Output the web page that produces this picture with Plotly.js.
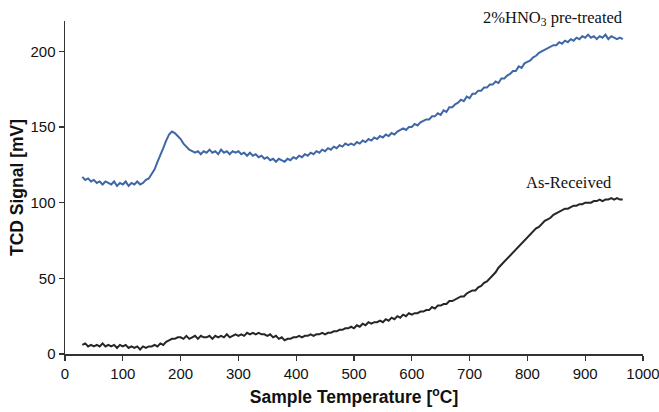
<!DOCTYPE html>
<html>
<head>
<meta charset="utf-8">
<script src="https://cdn.plot.ly/plotly-3.0.1.min.js"></script>
<style>html,body{margin:0;padding:0;background:#fff;}#chart{width:659px;height:412px;}</style>
</head>
<body>
<div id="chart"></div>
<script>
var temperatures = [30,35,40,45,50,55,60,65,70,75,80,85,90,95,100,105,110,115,120,125,130,135,140,145,
150,155,160,165,170,175,180,185,190,195,200,205,210,215,220,225,230,235,240,245,
250,255,260,265,270,275,280,285,290,295,300,305,310,315,320,325,330,335,340,345,
350,355,360,365,370,375,380,385,390,395,400,405,410,415,420,425,430,435,440,445,
450,455,460,465,470,475,480,485,490,495,500,505,510,515,520,525,530,535,540,545,
550,555,560,565,570,575,580,585,590,595,600,605,610,615,620,625,630,635,640,645,
650,655,660,665,670,675,680,685,690,695,700,705,710,715,720,725,730,735,740,745,
750,755,760,765,770,775,780,785,790,795,800,805,810,815,820,825,830,835,840,845,
850,855,860,865,870,875,880,885,890,895,900,905,910,915,920,925,930,935,940,945,
950,955,960,965];

var hno3Signal = [117,115,116,114,115,113,114,112,114,113,112,114,111,113,112,114,111,113,112,114,112,113,115,116,
119,122,127,131,136,141,145,147,146,144,142,139,137,135,134,133,134,132,134,133,
135,133,134,132,135,133,134,132,134,133,134,132,133,131,133,131,132,130,131,129,
130,128,129,127,129,128,127,129,128,130,129,131,130,132,131,133,132,134,133,135,
134,136,135,137,136,138,137,139,138,139,138,140,139,141,140,142,141,143,142,144,
143,145,144,146,145,147,148,149,148,150,150,152,151,153,154,155,155,157,157,159,
158,161,160,163,163,165,166,168,167,170,169,172,172,174,174,176,176,178,178,180,
179,182,182,184,185,187,187,190,189,192,193,194,196,197,199,200,201,202,203,204,
204,206,205,207,206,208,207,209,208,210,209,211,209,210,208,210,209,211,208,210,
209,208,209,208];

var asReceivedSignal = [6,7,5,6,5,6,5,7,5,6,5,6,4,6,5,6,4,5,4,5,3,5,4,5,
5,6,5,7,6,8,9,10,10,11,11,10,12,10,11,12,10,12,11,11,
12,10,12,11,12,11,13,11,12,13,12,13,12,14,13,14,13,14,13,13,
12,13,11,12,10,11,9,10,10,11,11,12,11,12,12,13,12,13,13,14,
13,14,14,15,15,16,16,17,17,18,17,19,18,20,19,21,20,21,21,22,
21,23,22,24,23,25,24,26,25,27,26,27,27,28,28,29,29,31,30,32,
32,33,33,35,35,36,37,38,38,40,41,42,42,44,45,47,48,50,52,54,
57,59,61,63,65,67,69,71,73,75,77,79,81,83,84,86,88,89,90,92,
93,94,95,96,96,97,98,98,99,99,100,100,100,101,101,102,101,102,102,103,
102,103,102,102];

var xTicks = [0,100,200,300,400,500,600,700,800,900,1000];
var yTicks = [0,50,100,150,200];
var seriesNames = ['2%HNO<sub>3</sub> pre-treated', 'As-Received'];

var traces = [
  {x: temperatures, y: hno3Signal, type: 'scatter', mode: 'lines', name: seriesNames[0],
   line: {color: '#3f67a6', width: 2}},
  {x: temperatures, y: asReceivedSignal, type: 'scatter', mode: 'lines', name: seriesNames[1],
   line: {color: '#262626', width: 2}}
];

var layout = {
  width: 659, height: 412,
  margin: {l: 65, r: 16, t: 21, b: 58},
  paper_bgcolor: '#fff', plot_bgcolor: '#fff',
  showlegend: false,
  font: {family: 'Liberation Sans, Arial, sans-serif', size: 15, color: '#111'},
  xaxis: {
    range: [0, 1000], tickvals: xTicks, ticktext: xTicks.map(String),
    showgrid: false, zeroline: false, showline: true, linecolor: '#333', linewidth: 1.5,
    ticks: 'outside', ticklen: 5, tickcolor: '#333', tickwidth: 1.2,
    ticklabeloverflow: 'allow',
    tickfont: {size: 15, color: '#111'},
    title: {text: '<b>Sample Temperature [<sup>o</sup>C]</b>', font: {size: 17.5, color: '#111'}, standoff: 10}
  },
  yaxis: {
    range: [0, 220], tickvals: yTicks, ticktext: yTicks.map(String),
    showgrid: false, zeroline: false, showline: true, linecolor: '#333', linewidth: 1.5,
    ticks: 'outside', ticklen: 5, tickcolor: '#333', tickwidth: 1.2,
    tickfont: {size: 15, color: '#111'},
    title: {text: '<b>TCD Signal [mV]</b>', font: {size: 17.5, color: '#111'}, standoff: 2}
  },
  annotations: [
    {x: 844, y: 1.009, xref: 'x', yref: 'paper', yanchor: 'middle', text: seriesNames[0], showarrow: false,
     font: {family: 'Liberation Serif, Times New Roman, serif', size: 16.5, color: '#111'}},
    {x: 872, y: 113, xref: 'x', yref: 'y', text: seriesNames[1], showarrow: false,
     font: {family: 'Liberation Serif, Times New Roman, serif', size: 16.5, color: '#111'}}
  ]
};

Plotly.newPlot('chart', traces, layout, {displayModeBar: false, staticPlot: true});
</script>
</body>
</html>
